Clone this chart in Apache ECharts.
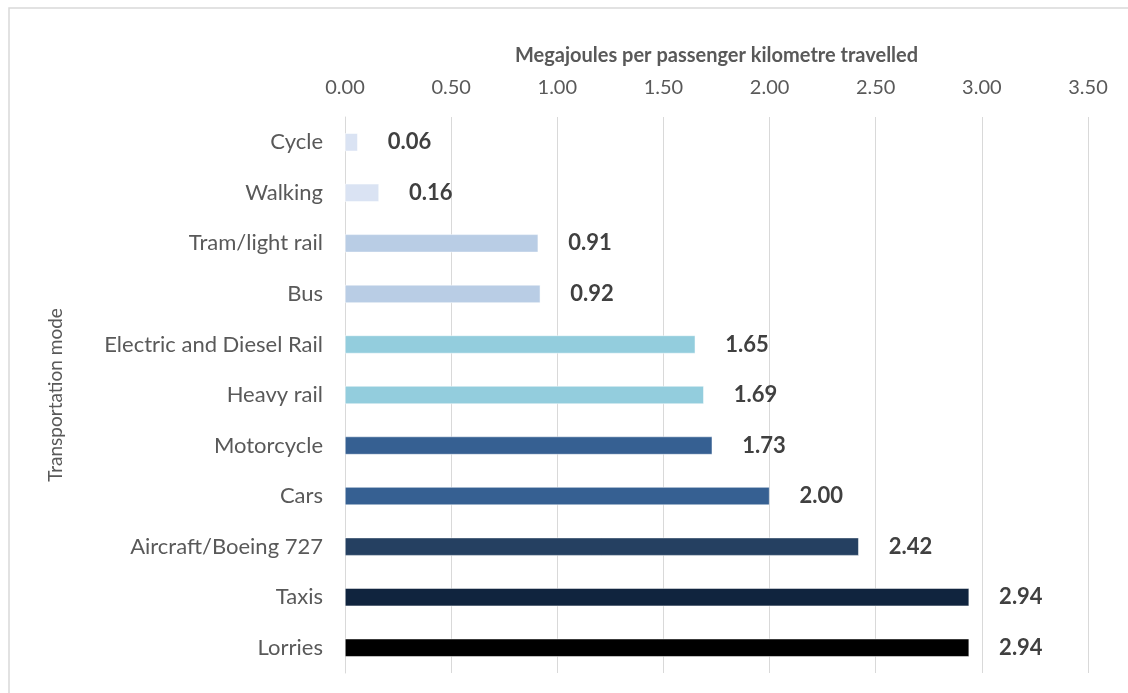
<!DOCTYPE html>
<html><head><meta charset="utf-8">
<script src="https://cdn.jsdelivr.net/npm/echarts@6/dist/echarts.min.js"></script>
<style>html,body{margin:0;padding:0;background:#fff}#c{width:1128px;height:693px}</style>
</head><body><div id="c"></div>
<script>
const categories = ["Cycle","Walking","Tram/light rail","Bus","Electric and Diesel Rail","Heavy rail","Motorcycle","Cars","Aircraft/Boeing 727","Taxis","Lorries"];
const values = [0.06,0.16,0.91,0.92,1.65,1.69,1.73,2.00,2.42,2.94,2.94];
const barColors = ["#dae3f3","#dae3f3","#b9cde5","#b9cde5","#93cddd","#93cddd","#366092","#366092","#254061","#10243e","#000000"];
const xTicks = [0,0.5,1,1.5,2,2.5,3,3.5];
const xTitle = "Megajoules per passenger kilometre travelled";
const yTitle = "Transportation mode";
const font = "Lato, 'Open Sans', sans-serif";

const chart = echarts.init(document.getElementById('c'));
chart.setOption({
  animation:false,
  graphic:[{type:'rect',shape:{x:9,y:8,width:1130,height:700},style:{fill:'none',stroke:'#d9d9d9',lineWidth:1.5},silent:true}],
  grid:{left:345,right:40,top:117,bottom:20},
  xAxis:{type:'value',position:'top',min:xTicks[0],max:xTicks[xTicks.length-1],interval:0.5,
    name:xTitle,nameLocation:'middle',nameGap:51,
    nameTextStyle:{fontFamily:font,fontWeight:'bold',fontSize:20,color:'#595959'},
    axisLine:{show:false},axisTick:{show:false},
    axisLabel:{fontFamily:font,fontSize:20,color:'#595959',margin:19,formatter:v=>v.toFixed(2)},
    splitLine:{show:true,lineStyle:{color:'#d9d9d9',width:1}}},
  yAxis:{type:'category',data:categories,inverse:true,
    name:yTitle,nameLocation:'middle',nameGap:280,
    nameTextStyle:{fontFamily:font,fontSize:19,color:'#595959'},
    axisLine:{show:true,lineStyle:{color:'#d9d9d9'}},axisTick:{show:false},
    axisLabel:{fontFamily:font,fontSize:22,color:'#595959',margin:22}},
  series:[{type:'bar',barWidth:18,
    data:values.map((v,i)=>({value:v,itemStyle:{color:barColors[i],borderColor:'#ffffff',borderWidth:0.5}})),
    label:{show:true,position:'right',distance:30,fontFamily:font,fontWeight:'bold',fontSize:22,color:'#404040',formatter:p=>p.value.toFixed(2)}}]
});
</script></body></html>
